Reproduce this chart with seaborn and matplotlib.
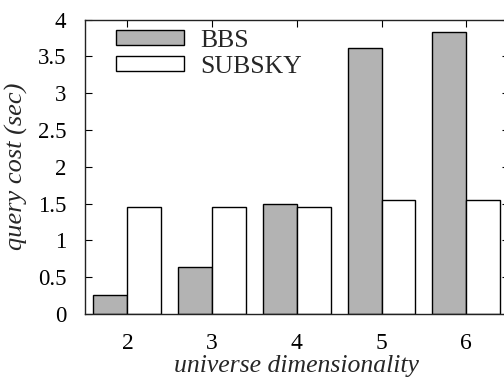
import matplotlib
matplotlib.use("Agg")
import matplotlib.pyplot as plt
import seaborn as sns
import pandas as pd

dims = ["2", "3", "4", "5", "6"]
bbs = [0.26, 0.64, 1.49, 3.61, 3.83]
subsky = [1.45, 1.45, 1.46, 1.545, 1.545]
methods = ["BBS", "SUBSKY"]

df = pd.DataFrame({
    "dim": dims * 2,
    "cost": bbs + subsky,
    "method": [methods[0]] * len(dims) + [methods[1]] * len(dims),
})

sns.set_theme(style="ticks")
plt.rcParams["font.family"] = ["Liberation Serif", "DejaVu Serif"]

fig = plt.figure(figsize=(5.04, 3.78), dpi=100)
ax = fig.add_axes([0.1687, 0.1693, 0.8405, 0.7788])

sns.barplot(data=df, x="dim", y="cost", hue="method", order=dims,
            hue_order=methods, palette=["#b3b3b3", "#ffffff"],
            width=0.8, gap=0, edgecolor="black", linewidth=1.0,
            saturation=1, errorbar=None, ax=ax)

ax.set_xlim(-0.5, 4.5)
ax.set_ylim(0, 4)
ax.set_yticks([0, 0.5, 1, 1.5, 2, 2.5, 3, 3.5, 4])
ax.set_yticklabels(["0", "0.5", "1", "1.5", "2", "2.5", "3", "3.5", "4"])
ax.tick_params(axis="both", direction="in", length=5, width=0.8,
               top=True, right=True, colors="black")
ax.tick_params(axis="y", pad=13.5, labelsize=16.5)
ax.tick_params(axis="x", pad=14, labelsize=17)
for s in ax.spines.values():
    s.set_visible(True)
    s.set_linewidth(1.0)
    s.set_color("#222222")

ax.set_xlabel("universe dimensionality", fontsize=18.5, style="italic")
ax.set_ylabel("query cost (sec)", fontsize=19, style="italic")
ax.xaxis.set_label_coords(0.5, -0.14)
ax.yaxis.set_label_coords(-0.135, 0.5)

leg = ax.legend(loc="upper left", bbox_to_anchor=(0.073, 0.965), frameon=False,
                fontsize=18.5, handlelength=2.65, handleheight=0.5,
                handletextpad=0.62, labelspacing=0.15, borderpad=0,
                borderaxespad=0)

fig.savefig("out.png", dpi=100)
